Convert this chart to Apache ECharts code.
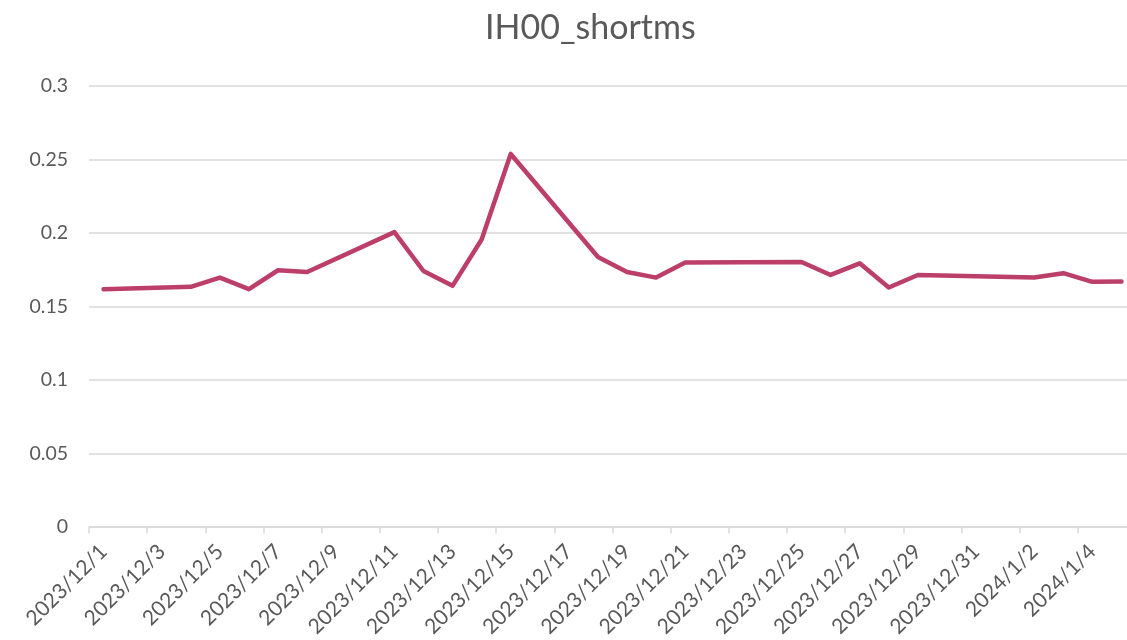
<!DOCTYPE html>
<html>
<head>
<meta charset="utf-8">
<script src="https://cdn.jsdelivr.net/npm/echarts@6/dist/echarts.min.js"></script>
<style>html,body{margin:0;padding:0;background:#fff;overflow:hidden;width:1127px;height:640px}#c{width:1136px;height:640px}</style>
</head>
<body>
<div id="c"></div>
<script>
const titleText = 'IH00_shortms';
const days = ['2023/12/1','2023/12/2','2023/12/3','2023/12/4','2023/12/5','2023/12/6','2023/12/7','2023/12/8','2023/12/9','2023/12/10','2023/12/11','2023/12/12','2023/12/13','2023/12/14','2023/12/15','2023/12/16','2023/12/17','2023/12/18','2023/12/19','2023/12/20','2023/12/21','2023/12/22','2023/12/23','2023/12/24','2023/12/25','2023/12/26','2023/12/27','2023/12/28','2023/12/29','2023/12/30','2023/12/31','2024/1/1','2024/1/2','2024/1/3','2024/1/4','2024/1/5'];
const obsDates = ['2023/12/1','2023/12/4','2023/12/5','2023/12/6','2023/12/7','2023/12/8','2023/12/11','2023/12/12','2023/12/13','2023/12/14','2023/12/15','2023/12/18','2023/12/19','2023/12/20','2023/12/21','2023/12/25','2023/12/26','2023/12/27','2023/12/28','2023/12/29','2024/1/2','2024/1/3','2024/1/4','2024/1/5'];
const obsValues = [0.1618,0.1634,0.1697,0.1618,0.1747,0.1735,0.2006,0.1742,0.1641,0.1956,0.2538,0.1837,0.1735,0.1697,0.1799,0.1803,0.1715,0.1794,0.1630,0.1715,0.1697,0.1727,0.1668,0.1670];

const map = {};
obsDates.forEach((d, i) => { map[d] = obsValues[i]; });
const seriesData = days.map(d => (d in map ? map[d] : null));

const chart = echarts.init(document.getElementById('c'));
chart.setOption({
  backgroundColor: '#fff',
  animation: false,
  title: {
    text: titleText, left: 480, top: 6,
    textStyle: { fontFamily: 'Lato', fontSize: 34, fontWeight: 'normal', color: '#595959' }
  },
  grid: { left: 89, right: 0, top: 86, bottom: 109, containLabel: false },
  xAxis: {
    type: 'category', data: days, boundaryGap: true,
    axisLine: { lineStyle: { color: '#d9d9d9', width: 1.5 } },
    axisTick: { show: true, interval: 1, length: 6, lineStyle: { color: '#d9d9d9', width: 1.5 } },
    axisLabel: { interval: 1, rotate: 45, margin: 21, fontFamily: 'Lato', fontSize: 21, color: '#595959' },
    splitLine: { show: false }
  },
  yAxis: {
    type: 'value', min: 0, max: 0.3, interval: 0.05,
    axisLine: { show: false }, axisTick: { show: false },
    axisLabel: { margin: 21, fontFamily: 'Lato', fontSize: 19.5, color: '#595959' },
    splitLine: { lineStyle: { color: '#d9d9d9', width: 1.5 } }
  },
  series: [{
    type: 'line', data: seriesData, connectNulls: true,
    showSymbol: false, symbol: 'none',
    lineStyle: { color: '#bc3f69', width: 4.5, cap: 'round', join: 'round' }
  }]
});
</script>
</body>
</html>
